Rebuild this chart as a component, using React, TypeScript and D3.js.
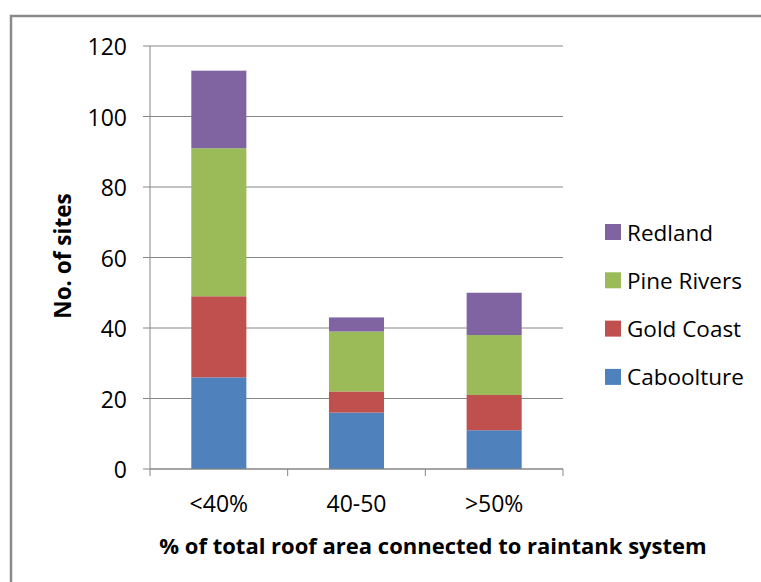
import React from "react";
import * as d3 from "d3";

const categories = ["<40%", "40-50", ">50%"];
const seriesNames = ["Caboolture", "Gold Coast", "Pine Rivers", "Redland"];
const caboolture = [26, 16, 11];
const goldCoast = [23, 6, 10];
const pineRivers = [42, 17, 17];
const redland = [22, 4, 12];
const seriesColors = ["#4F81BD", "#C0504D", "#9BBB59", "#8064A2"];
const yTicks = [0, 20, 40, 60, 80, 100, 120];

const W = 761;
const H = 582;
const FONT = "'Open Sans', 'Liberation Sans', sans-serif";

export default function App() {
  const values = [caboolture, goldCoast, pineRivers, redland];
  const rows = categories.map((c, i) => {
    const r: Record<string, any> = { cat: c };
    seriesNames.forEach((s, k) => (r[s] = values[k][i]));
    return r;
  });
  const stacked = d3.stack<any>().keys(seriesNames)(rows);

  const x = d3
    .scaleBand<string>()
    .domain(categories)
    .range([150, 563])
    .paddingInner(0.6)
    .paddingOuter(0.3);
  const y = d3.scaleLinear().domain([0, 120]).range([469, 46]);
  const step = x.step();
  const x0 = 150;
  const x1 = 563;
  const axisColor = "#868686";

  return (
    <svg
      width={W}
      height={H}
      style={{ position: "absolute", left: 0, top: 0, background: "#fff" }}
    >
      {/* chart frame */}
      <rect x={11} y={16} width={W + 10} height={H + 10} fill="#fff" stroke="#8a8a8a" strokeWidth={2.5} />

      {/* gridlines */}
      {yTicks.map((t) => (
        <line key={"g" + t} x1={x0} x2={x1} y1={y(t)} y2={y(t)} stroke={axisColor} strokeWidth={1} />
      ))}

      {/* bars */}
      {stacked.map((layer, k) =>
        layer.map((d, i) => (
          <rect
            key={seriesNames[k] + i}
            x={x(categories[i])}
            y={y(d[1])}
            width={x.bandwidth()}
            height={y(d[0]) - y(d[1])}
            fill={seriesColors[k]}
          />
        ))
      )}

      {/* y axis */}
      <line x1={x0} x2={x0} y1={y(120)} y2={y(0)} stroke={axisColor} strokeWidth={1} />
      {yTicks.map((t) => (
        <g key={"yt" + t}>
          <line x1={x0 - 7} x2={x0} y1={y(t)} y2={y(t)} stroke={axisColor} strokeWidth={1} />
          <text
            x={127}
            y={y(t)}
            textAnchor="end"
            dominantBaseline="central"
            fontFamily={FONT}
            fontSize={23}
            fill="#000"
          >
            {t}
          </text>
        </g>
      ))}

      {/* x axis */}
      <line x1={x0} x2={x1} y1={y(0)} y2={y(0)} stroke={axisColor} strokeWidth={1} />
      {d3.range(categories.length + 1).map((i) => (
        <line
          key={"xt" + i}
          x1={x0 + i * step}
          x2={x0 + i * step}
          y1={y(0)}
          y2={y(0) + 7}
          stroke={axisColor}
          strokeWidth={1}
        />
      ))}
      {categories.map((c) => (
        <text
          key={"xl" + c}
          x={(x(c) as number) + x.bandwidth() / 2}
          y={512}
          textAnchor="middle"
          fontFamily={FONT}
          fontSize={23}
          fill="#000"
        >
          {c}
        </text>
      ))}

      {/* axis titles */}
      <text
        x={433}
        y={554}
        textAnchor="middle"
        fontFamily={FONT}
        fontWeight="bold"
        fontSize={22}
        fill="#000"
      >
        % of total roof area connected to raintank system
      </text>
      <text
        transform={`translate(71,256) rotate(-90)`}
        textAnchor="middle"
        fontFamily={FONT}
        fontWeight="bold"
        fontSize={22.5}
        fill="#000"
      >
        No. of sites
      </text>

      {/* legend, top entry is the top of the stack */}
      {seriesNames
        .map((s, k) => ({ s, k }))
        .reverse()
        .map(({ s, k }, j) => {
          const cy = 232 + j * 48.3;
          return (
            <g key={"lg" + s}>
              <rect x={605} y={cy - 8} width={16} height={16} fill={seriesColors[k]} />
              <text
                x={627}
                y={cy}
                dominantBaseline="central"
                fontFamily={FONT}
                fontSize={22.5}
                fill="#000"
              >
                {s}
              </text>
            </g>
          );
        })}
    </svg>
  );
}
